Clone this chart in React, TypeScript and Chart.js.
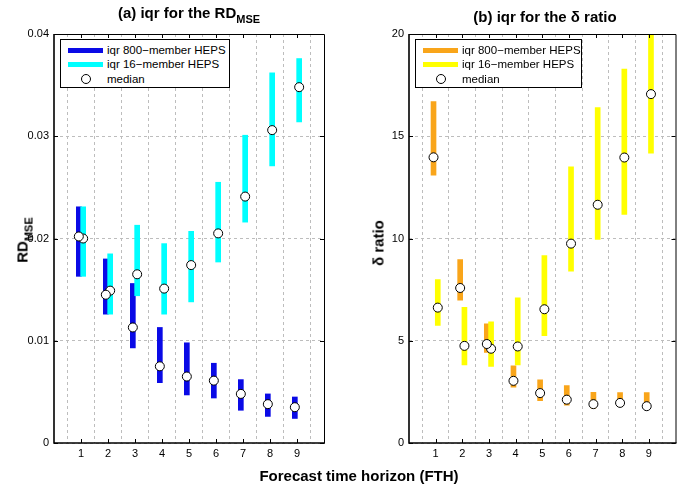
import React, { useEffect, useRef } from 'react';
import { Chart, registerables } from 'chart.js';
Chart.register(...registerables);

const fth = [1, 2, 3, 4, 5, 6, 7, 8, 9];

const rdLow800 = [0.0163, 0.0126, 0.0093, 0.0059, 0.0047, 0.0044, 0.0032, 0.0026, 0.0024];
const rdHigh800 = [0.0231, 0.018, 0.0156, 0.0113, 0.0098, 0.0078, 0.0062, 0.0048, 0.0045];
const rdMed800 = [0.0202, 0.0145, 0.0113, 0.0075, 0.0065, 0.0061, 0.0048, 0.0038, 0.0035];
const rdLow16 = [0.0163, 0.0126, 0.0144, 0.0126, 0.0138, 0.0177, 0.0216, 0.0271, 0.0314];
const rdHigh16 = [0.0231, 0.0185, 0.0213, 0.0195, 0.0207, 0.0255, 0.0301, 0.0362, 0.0376];
const rdMed16 = [0.02, 0.0149, 0.0165, 0.0151, 0.0174, 0.0205, 0.0241, 0.0306, 0.0348];

const dLow800 = [13.1, 6.98, 4.43, 2.73, 2.07, 1.85, 1.7, 1.78, 1.7];
const dHigh800 = [16.7, 8.97, 5.83, 3.77, 3.09, 2.81, 2.48, 2.47, 2.47];
const dMed800 = [13.97, 7.58, 4.84, 3.04, 2.44, 2.12, 1.9, 1.96, 1.8];
const dLow16 = [5.75, 3.82, 3.74, 3.82, 5.25, 8.4, 9.95, 11.18, 14.17];
const dHigh16 = [7.99, 6.63, 5.92, 7.1, 9.17, 13.5, 16.4, 18.28, 21];
const dMed16 = [6.62, 4.75, 4.61, 4.72, 6.54, 9.75, 11.65, 13.96, 17.06];

const xTickLabels = ['', '1', '2', '3', '4', '5', '6', '7', '8', '9', ''];
const rdTickLabels = ['0', '0.01', '0.02', '0.03', '0.04'];
const dTickLabels = ['0', '5', '10', '15', '20'];

const legendLabels = ['iqr 800\u2212member HEPS', 'iqr 16\u2212member HEPS', 'median'];

const FONT = '"Liberation Sans", Arial, Helvetica, sans-serif';
const OFF = 0.08;

const framePlugin = {
  id: 'frame',
  afterDraw(chart: any) {
    const { ctx, chartArea: a, scales } = chart;
    ctx.save();
    ctx.strokeStyle = '#000';
    const L = 4;
    ctx.lineWidth = 1;
    ctx.beginPath();
    scales.x.ticks.forEach((t: any) => {
      if (t.value <= 0 || t.value >= 10) return;
      const px = Math.round(scales.x.getPixelForValue(t.value)) + 0.5;
      ctx.moveTo(px, a.bottom);
      ctx.lineTo(px, a.bottom - L);
      ctx.moveTo(px, a.top);
      ctx.lineTo(px, a.top + L);
    });
    scales.y.ticks.forEach((t: any) => {
      const py = Math.round(scales.y.getPixelForValue(t.value)) + 0.5;
      ctx.moveTo(a.left, py);
      ctx.lineTo(a.left + L, py);
      ctx.moveTo(a.right, py);
      ctx.lineTo(a.right - L, py);
    });
    ctx.stroke();
    ctx.lineWidth = 1;
    ctx.beginPath();
    ctx.moveTo(a.left, a.top + 0.5);
    ctx.lineTo(a.right + 0.5, a.top + 0.5);
    ctx.lineTo(a.right + 0.5, a.bottom);
    ctx.stroke();
    ctx.lineWidth = 1.6;
    ctx.beginPath();
    ctx.moveTo(a.left, a.top);
    ctx.lineTo(a.left, a.bottom);
    ctx.lineTo(a.right + 1, a.bottom);
    ctx.stroke();
    ctx.restore();
  },
};

function makeChart(
  canvas: HTMLCanvasElement,
  low800: number[], high800: number[], med800: number[],
  low16: number[], high16: number[], med16: number[],
  c800: string, c16: string,
  yMax: number, yStep: number, yLabels: string[],
  axisWidth: number, padRight: number
) {
  const bar = (lo: number[], hi: number[], off: number) =>
    fth.map((f, i) => ({ x: f + off, y: [lo[i], hi[i]] }));
  const pts = (m: number[], off: number) => fth.map((f, i) => ({ x: f + off, y: m[i] }));
  const pointStyle = {
    type: 'scatter' as const,
    pointRadius: 4.5,
    pointBackgroundColor: '#fff',
    pointBorderColor: '#000',
    pointBorderWidth: 1,
    showLine: false,
    order: 0,
  };
  return new Chart(canvas, {
    type: 'bar',
    data: {
      datasets: [
        { type: 'bar', data: bar(low800, high800, -OFF) as any, backgroundColor: c800, barThickness: 5, grouped: false, order: 2 } as any,
        { type: 'bar', data: bar(low16, high16, OFF) as any, backgroundColor: c16, barThickness: 5, grouped: false, order: 1 } as any,
        { ...pointStyle, data: pts(med800, -OFF) } as any,
        { ...pointStyle, data: pts(med16, OFF) } as any,
      ],
    },
    options: {
      animation: false,
      responsive: false,
      layout: { padding: { top: 34, right: padRight, bottom: 33, left: 0 } },
      plugins: { legend: { display: false }, tooltip: { enabled: false } },
      scales: {
        x: {
          type: 'linear',
          min: 0,
          max: 10,
          offset: false,
          afterFit: (s: any) => { s.height = 20; },
          ticks: {
            stepSize: 1,
            autoSkip: false,
            maxRotation: 0,
            padding: 4,
            color: '#000',
            font: { family: FONT, size: 11 },
            callback: (v: any) => xTickLabels[Math.round(Number(v))] ?? '',
          },
          grid: { color: '#bdbdbd', lineWidth: 1, drawTicks: false },
          border: { display: false, dash: [3, 3] },
        },
        y: {
          type: 'linear',
          min: 0,
          max: yMax,
          afterFit: (s: any) => { s.width = axisWidth; },
          ticks: {
            stepSize: yStep,
            padding: 5,
            color: '#000',
            font: { family: FONT, size: 11 },
            callback: (v: any) => yLabels[Math.round(Number(v) / yStep)] ?? '',
          },
          grid: { color: '#bdbdbd', lineWidth: 1, drawTicks: false },
          border: { display: false, dash: [3, 3] },
        },
      },
    },
    plugins: [framePlugin],
  } as any);
}

function Legend({ left, width, c800, c16 }: { left: number; width: number; c800: string; c16: string }) {
  const row = (top: number): React.CSSProperties => ({ position: 'absolute', left: 46, top, fontSize: 11.5, lineHeight: '14px', whiteSpace: 'nowrap' });
  return (
    <div style={{ position: 'absolute', left, top: 39, width, height: 47, border: '1px solid #000', background: '#fff', fontFamily: FONT, color: '#000' }}>
      <div style={{ position: 'absolute', left: 7, top: 8, width: 35, height: 5, background: c800 }} />
      <div style={row(3)}>{legendLabels[0]}</div>
      <div style={{ position: 'absolute', left: 7, top: 22, width: 35, height: 5, background: c16 }} />
      <div style={row(17)}>{legendLabels[1]}</div>
      <div style={{ position: 'absolute', left: 20, top: 34, width: 8, height: 8, borderRadius: '50%', border: '1px solid #000', background: '#fff' }} />
      <div style={row(32)}>{legendLabels[2]}</div>
    </div>
  );
}

export default function App() {
  const leftRef = useRef<HTMLCanvasElement>(null);
  const rightRef = useRef<HTMLCanvasElement>(null);

  useEffect(() => {
    document.body.style.margin = '0';
    const c1 = makeChart(leftRef.current!, rdLow800, rdHigh800, rdMed800, rdLow16, rdHigh16, rdMed16,
      '#0a0ae6', '#00ffff', 0.04, 0.01, rdTickLabels, 54, 16);
    const c2 = makeChart(rightRef.current!, dLow800, dHigh800, dMed800, dLow16, dHigh16, dMed16,
      '#f9a51a', '#ffff00', 20, 5, dTickLabels, 69, 2);
    return () => { c1.destroy(); c2.destroy(); };
  }, []);

  const bold: React.CSSProperties = { position: 'absolute', fontFamily: FONT, fontWeight: 'bold', fontSize: 15, whiteSpace: 'nowrap', color: '#000' };

  return (
    <div style={{ position: 'relative', width: 681, height: 496, background: '#fff', overflow: 'hidden' }}>
      <canvas ref={leftRef} width={340} height={496} style={{ position: 'absolute', left: 0, top: 0, display: 'block' }} />
      <canvas ref={rightRef} width={341} height={496} style={{ position: 'absolute', left: 340, top: 0, display: 'block' }} />
      <Legend left={60} width={168} c800="#0a0ae6" c16="#00ffff" />
      <Legend left={415} width={165} c800="#f9a51a" c16="#ffff00" />
      <div style={{ ...bold, left: 189, top: 4, transform: 'translateX(-50%)' }}>
        (a) iqr for the RD<sub style={{ fontSize: 11, verticalAlign: -5 }}>MSE</sub>
      </div>
      <div style={{ ...bold, left: 545, top: 8, transform: 'translateX(-50%)' }}>(b) iqr for the δ ratio</div>
      <div style={{ ...bold, left: 24, top: 240, transform: 'translate(-50%, -50%) rotate(-90deg)' }}>
        RD<sub style={{ fontSize: 11, verticalAlign: -5 }}>MSE</sub>
      </div>
      <div style={{ ...bold, left: 378, top: 243, transform: 'translate(-50%, -50%) rotate(-90deg)' }}>δ ratio</div>
      <div style={{ ...bold, left: 359, top: 467, transform: 'translateX(-50%)' }}>Forecast time horizon (FTH)</div>
    </div>
  );
}
